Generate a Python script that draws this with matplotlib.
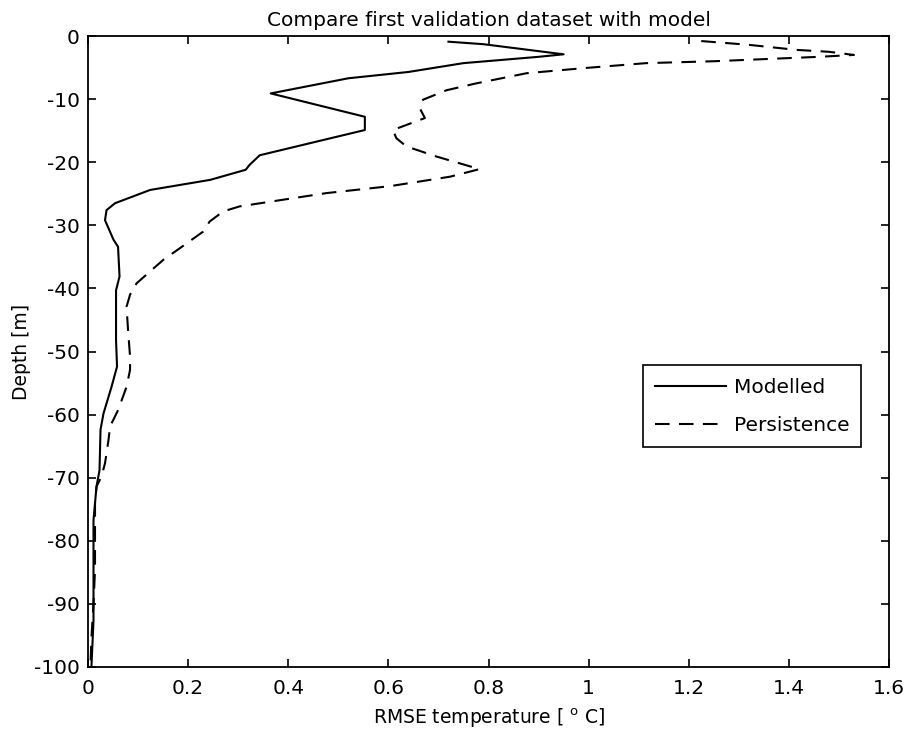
import matplotlib
matplotlib.use("Agg")
import matplotlib.pyplot as plt

plt.rcParams['font.family'] = ['DejaVu Sans']
plt.rcParams['mathtext.fontset'] = 'dejavusans'

modelled_depth = [-0.9, -1.3, -2.9, -3.3, -4.3, -5.7, -6.7, -9.1, -12.8, -14.9, -18.9,
                  -20.4, -21.2, -22.8, -24.4, -26.5, -27.6, -29.2, -32.3, -33.4, -38.1,
                  -40.3, -48.2, -52.4, -55.6, -59.8, -62.4, -68.8, -71.4, -76.7, -82.0,
                  -92.6, -99.7]
modelled_rmse = [0.72, 0.79, 0.95, 0.90, 0.75, 0.64, 0.52, 0.365, 0.553, 0.553, 0.343,
                 0.323, 0.315, 0.244, 0.124, 0.054, 0.037, 0.034, 0.051, 0.060, 0.063,
                 0.056, 0.056, 0.058, 0.047, 0.031, 0.025, 0.023, 0.017, 0.011, 0.011,
                 0.011, 0.007]

persist_depth = [-0.8, -1.4, -2.2, -2.5, -3.0, -3.3, -4.0, -4.3, -5.1, -5.9, -7.5, -8.6,
                 -10.1, -11.5, -13.0, -14.9, -16.2, -17.5, -19.1, -21.1, -22.3, -23.8,
                 -24.9, -25.7, -27.0, -27.8, -29.4, -31.0, -33.6, -35.5, -39.2, -41.0,
                 -42.9, -46.6, -50.8, -52.9, -55.6, -59.3, -61.9, -64.0, -67.7, -69.8,
                 -71.4, -74.0, -84.6, -89.9, -95.2, -99.7]
persist_rmse = [1.225, 1.32, 1.415, 1.48, 1.53, 1.46, 1.25, 1.115, 0.989, 0.876, 0.776, 0.716,
                0.669, 0.663, 0.673, 0.609, 0.616, 0.636, 0.696, 0.782, 0.723, 0.603,
                0.476, 0.41, 0.303, 0.27, 0.243, 0.23, 0.184, 0.150, 0.097, 0.084,
                0.077, 0.080, 0.084, 0.084, 0.077, 0.060, 0.044, 0.041, 0.034, 0.027,
                0.017, 0.014, 0.014, 0.011, 0.007, 0.005]

x_ticks = [0, 0.2, 0.4, 0.6, 0.8, 1.0, 1.2, 1.4, 1.6]
x_ticklabels = ['0', '0.2', '0.4', '0.6', '0.8', '1', '1.2', '1.4', '1.6']
y_ticks = [0, -10, -20, -30, -40, -50, -60, -70, -80, -90, -100]

fig = plt.figure(figsize=(9.05, 7.39), dpi=100)
ax = fig.add_axes([88/905, 72/739, 801/905, 631/739])

ax.plot(modelled_rmse, modelled_depth, color='black', lw=1.5, label='Modelled')
ax.plot(persist_rmse, persist_depth, color='black', lw=1.5, dashes=(7, 4.5), label='Persistence')

ax.set_xlim(0, 1.6)
ax.set_ylim(-100, 0)
ax.set_xticks(x_ticks)
ax.set_xticklabels(x_ticklabels)
ax.set_yticks(y_ticks)
ax.set_yticklabels([str(v) for v in y_ticks])
ax.tick_params(direction='in', length=6, width=1.2, top=True, right=True, labelsize=14.5)
ax.tick_params(axis='x', pad=9)
ax.tick_params(axis='y', pad=6)
for s in ax.spines.values():
    s.set_linewidth(1.3)

ax.set_title('Compare first validation dataset with model', fontsize=14.5, pad=7)
ax.set_xlabel(r'RMSE temperature [ $^{\mathrm{o}}$ C]', fontsize=13.5, labelpad=6)
ax.set_ylabel('Depth [m]', fontsize=13.5, labelpad=2)

leg = ax.legend(loc='lower left', bbox_to_anchor=(0.693, 0.349), borderaxespad=0,
                fontsize=14.5, fancybox=False, edgecolor='black', framealpha=1,
                handlelength=3.5, handletextpad=0.4, borderpad=0.6, labelspacing=0.95)
leg.get_frame().set_linewidth(1.2)

fig.savefig('out.png', dpi=100)
